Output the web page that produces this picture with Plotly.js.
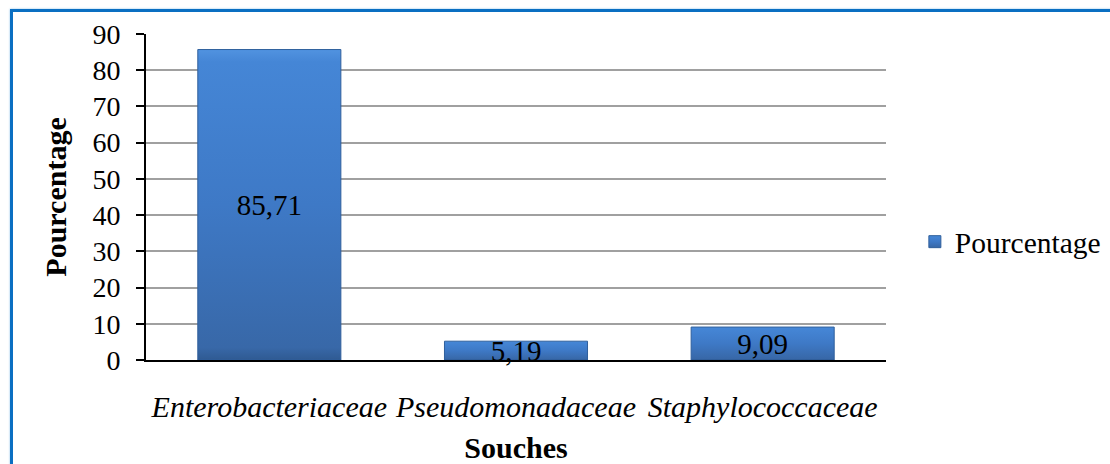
<!DOCTYPE html>
<html>
<head>
<meta charset="utf-8">
<script src="https://cdn.plot.ly/plotly-3.0.1.min.js"></script>
<style>
  html, body { margin: 0; padding: 0; background: #ffffff; overflow: hidden; }
  #frame { position: absolute; left: 10px; top: 9px; width: 1200px; height: 600px;
           border: 3px solid #0a6fc2; box-shadow: 0 0 2px #8cc0ea; }
  #chart { position: absolute; left: 0; top: 0; width: 1110px; height: 464px; }
</style>
</head>
<body>
<div id="frame"></div>
<div id="chart"></div>
<script>
const categories = ['Enterobacteriaceae', 'Pseudomonadaceae', 'Staphylococcaceae'];
const values = [85.71, 5.19, 9.09];
const valueLabels = ['85,71', '5,19', '9,09'];
const seriesName = 'Pourcentage';
const yTicks = [0, 10, 20, 30, 40, 50, 60, 70, 80, 90];

const serif = "'Liberation Serif', 'Times New Roman', serif";

const trace = {
  type: 'bar',
  x: categories.map(c => '<i>' + c + '</i>'),
  y: values,
  name: seriesName,
  text: valueLabels,
  textposition: 'inside',
  insidetextanchor: 'middle',
  textangle: 0,
  constraintext: 'none',
  cliponaxis: false,
  textfont: { family: serif, size: 29, color: '#000000' },
  marker: { color: '#3e79c6', line: { color: '#2f5f9c', width: 1 } },
  showlegend: true,
  hoverinfo: 'none'
};

const layout = {
  width: 1110, height: 464,
  margin: { l: 146, r: 224, t: 34, b: 104, autoexpand: false },
  paper_bgcolor: 'rgba(0,0,0,0)',
  plot_bgcolor: 'rgba(0,0,0,0)',
  bargap: 0.42,
  font: { family: serif, size: 28, color: '#000000' },
  showlegend: true,
  legend: {
    x: 1.039, xanchor: 'left', y: 0.362, yanchor: 'middle',
    font: { family: serif, size: 29.5, color: '#000000' },
    itemwidth: 30, bgcolor: 'rgba(0,0,0,0)'
  },
  xaxis: {
    type: 'category',
    showline: true, linecolor: '#000000', linewidth: 2,
    ticks: '', showgrid: false,
    tickfont: { family: serif, size: 30, color: '#000000' },
    ticklabelstandoff: 19,
    automargin: false,
    title: { text: '<b>Souches</b>', font: { family: serif, size: 30, color: '#000000' }, standoff: 22 }
  },
  yaxis: {
    range: [0, 90], tickvals: yTicks, ticktext: yTicks.map(String),
    showline: true, linecolor: '#000000', linewidth: 2,
    ticks: 'outside', ticklen: 8, tickwidth: 2, tickcolor: '#000000',
    showgrid: true, gridcolor: '#a0a0a0', gridwidth: 2,
    zeroline: false,
    tickfont: { family: serif, size: 28, color: '#000000' },
    ticklabelstandoff: 10,
    automargin: false,
    title: { text: '<b>Pourcentage</b>', font: { family: serif, size: 30, color: '#000000' }, standoff: 17 }
  }
};

Plotly.newPlot('chart', [trace], layout, { displayModeBar: false, staticPlot: true }).then(gd => {
  const svg = gd.querySelector('svg.main-svg');
  const ns = 'http://www.w3.org/2000/svg';
  let defs = svg.querySelector('defs');
  if (!defs) { defs = document.createElementNS(ns, 'defs'); svg.insertBefore(defs, svg.firstChild); }
  const grad = document.createElementNS(ns, 'linearGradient');
  grad.setAttribute('id', 'barGrad');
  grad.setAttribute('x1', '0'); grad.setAttribute('y1', '0');
  grad.setAttribute('x2', '0'); grad.setAttribute('y2', '1');
  [['0', '#5193e0'], ['0.04', '#4586d6'], ['0.5', '#3e79c6'], ['0.96', '#3868a8'], ['1', '#2f5a92']].forEach(([o, c]) => {
    const s = document.createElementNS(ns, 'stop');
    s.setAttribute('offset', o); s.setAttribute('stop-color', c);
    grad.appendChild(s);
  });
  defs.appendChild(grad);
  gd.querySelectorAll('.bars path, .legendpoints path').forEach(p => { p.style.fill = 'url(#barGrad)'; });
});
</script>
</body>
</html>
